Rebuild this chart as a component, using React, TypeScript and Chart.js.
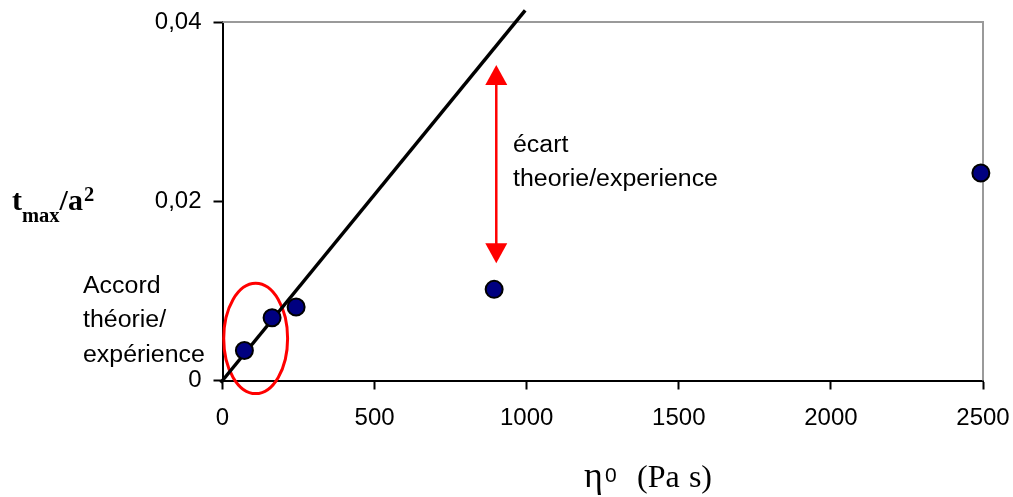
import React, { useEffect, useRef } from "react";
import { Chart, registerables } from "chart.js";

Chart.register(...registerables);

// ---- data ----
const etaValues = [72, 163, 242, 893, 2493];
const tmaxValues = [0.00335, 0.0070, 0.0082, 0.01017, 0.02316];
const fitX = [-6, 995];
const fitY = [-0.00025, 0.0413];
const xTickValues = [0, 500, 1000, 1500, 2000, 2500];
const yTickValues = [0, 0.02, 0.04];
// annotation anchors (data units)
const arrowX = 900;
const arrowYTop = 0.0352;
const arrowYBottom = 0.01307;
const ellipseCenter = { x: 109, y: 0.00469 };
const ellipseRadius = { x: 105, y: 0.00615 };
const ecartLines = ["écart", "theorie/experience"];
const accordLines = ["Accord", "théorie/", "expérience"];

const SANS = "'Liberation Sans', Arial, sans-serif";
const SERIF = "'Liberation Serif', 'Times New Roman', serif";

function stretchedText(ctx: CanvasRenderingContext2D, text: string, x: number, y: number, sx: number) {
  ctx.save();
  ctx.translate(x, y);
  ctx.scale(sx, 1);
  ctx.fillText(text, 0, 0);
  ctx.restore();
}

const decorPlugin = {
  id: "decor",
  beforeDatasetsDraw(chart: any) {
    const { ctx, chartArea, scales } = chart;
    const xs = scales.x;
    const ys = scales.y;
    ctx.save();
    // gray top & right frame
    ctx.strokeStyle = "#9a9a9a";
    ctx.lineWidth = 2;
    ctx.beginPath();
    ctx.moveTo(chartArea.left, chartArea.top);
    ctx.lineTo(chartArea.right, chartArea.top);
    ctx.lineTo(chartArea.right, chartArea.bottom);
    ctx.stroke();
    // red ellipse
    const cx = xs.getPixelForValue(ellipseCenter.x);
    const cy = ys.getPixelForValue(ellipseCenter.y);
    const rx = Math.abs(xs.getPixelForValue(ellipseCenter.x + ellipseRadius.x) - cx);
    const ry = Math.abs(ys.getPixelForValue(ellipseCenter.y + ellipseRadius.y) - cy);
    ctx.strokeStyle = "#ff0000";
    ctx.lineWidth = 3;
    ctx.beginPath();
    ctx.ellipse(cx, cy, rx, ry, 0, 0, Math.PI * 2);
    ctx.stroke();
    ctx.restore();
  },
  afterDatasetsDraw(chart: any) {
    const { ctx, scales } = chart;
    const xs = scales.x;
    const ys = scales.y;
    ctx.save();
    // red double arrow
    const ax = xs.getPixelForValue(arrowX);
    const top = ys.getPixelForValue(arrowYTop);
    const bot = ys.getPixelForValue(arrowYBottom);
    const headH = 20;
    const headW = 11;
    ctx.strokeStyle = "#ff0000";
    ctx.fillStyle = "#ff0000";
    ctx.lineWidth = 2.5;
    ctx.beginPath();
    ctx.moveTo(ax, top + headH - 2);
    ctx.lineTo(ax, bot - headH + 2);
    ctx.stroke();
    ctx.beginPath();
    ctx.moveTo(ax, top);
    ctx.lineTo(ax - headW, top + headH);
    ctx.lineTo(ax + headW, top + headH);
    ctx.closePath();
    ctx.fill();
    ctx.beginPath();
    ctx.moveTo(ax, bot);
    ctx.lineTo(ax - headW, bot - headH);
    ctx.lineTo(ax + headW, bot - headH);
    ctx.closePath();
    ctx.fill();

    // text annotations
    ctx.fillStyle = "#000";
    ctx.textAlign = "left";
    ctx.textBaseline = "alphabetic";
    ctx.font = `23.5px ${SANS}`;
    ecartLines.forEach((t, i) => stretchedText(ctx, t, 513, 152 + i * 34, 1.06));
    accordLines.forEach((t, i) => stretchedText(ctx, t, 83, 293 + i * 34.3, 1.06));

    // y title: t_max/a^2
    let x = 12;
    ctx.font = `bold 30px ${SERIF}`;
    ctx.fillText("t", x, 210);
    x += ctx.measureText("t").width;
    ctx.font = `bold 20.5px ${SERIF}`;
    ctx.fillText("max", x, 221.5);
    x += ctx.measureText("max").width;
    ctx.font = `bold 30px ${SERIF}`;
    ctx.fillText("/a", x, 210);
    x += ctx.measureText("/a").width;
    ctx.font = `bold 20.5px ${SERIF}`;
    ctx.fillText("2", x + 1, 200.5);

    // x title: η0 (Pa s)
    ctx.font = `36px ${SERIF}`;
    ctx.fillText("η", 584, 487);
    ctx.font = `21px ${SANS}`;
    ctx.fillText("0", 605, 482);
    ctx.font = `32px ${SERIF}`;
    ctx.fillText("(Pa", 637, 487);
    ctx.textAlign = "right";
    ctx.fillText("s)", 712, 487);
    ctx.restore();
  },
};

export default function App() {
  const ref = useRef<HTMLCanvasElement | null>(null);
  useEffect(() => {
    document.body.style.margin = "0";
    if (!ref.current) return;
    const chart = new Chart(ref.current, {
      type: "scatter",
      data: {
        datasets: [
          {
            label: "mesures",
            data: etaValues.map((v, i) => ({ x: v, y: tmaxValues[i] })),
            backgroundColor: "#000080",
            borderColor: "#000000",
            borderWidth: 2,
            pointRadius: 8.5,
            clip: false as any,
          },
          {
            label: "théorie",
            type: "line" as any,
            data: fitX.map((v, i) => ({ x: v, y: fitY[i] })),
            borderColor: "#000000",
            borderWidth: 3.5,
            pointRadius: 0,
            showLine: true,
            fill: false,
            clip: false as any,
          },
        ],
      },
      options: {
        responsive: false,
        animation: false,
        layout: { padding: { left: 0, top: 22, right: 30, bottom: 0 } },
        plugins: { legend: { display: false }, tooltip: { enabled: false } },
        scales: {
          x: {
            type: "linear",
            min: 0,
            max: 2500,
            afterBuildTicks: (s: any) => {
              s.ticks = xTickValues.map((v) => ({ value: v }));
            },
            afterFit: (s: any) => {
              s.height = 116.5;
              s.paddingLeft = 0;
              s.paddingRight = 0;
            },
            ticks: {
              color: "#000",
              font: { family: SANS, size: 24 },
              padding: 14,
              maxRotation: 0,
              callback: (v: any) => String(v),
            },
            grid: { drawOnChartArea: false, drawTicks: true, tickLength: 9, tickColor: "#000", tickWidth: 2 },
            border: { display: true, color: "#000", width: 2 },
          },
          y: {
            type: "linear",
            min: 0,
            max: 0.04,
            afterBuildTicks: (s: any) => {
              s.ticks = yTickValues.map((v) => ({ value: v }));
            },
            afterFit: (s: any) => {
              s.width = 222.5;
              s.paddingTop = 0;
              s.paddingBottom = 0;
            },
            ticks: {
              color: "#000",
              font: { family: SANS, size: 24 },
              padding: 12,
              callback: (v: any) => (v === 0 ? "0" : Number(v).toFixed(2).replace(".", ",")),
            },
            grid: { drawOnChartArea: false, drawTicks: true, tickLength: 9, tickColor: "#000", tickWidth: 2 },
            border: { display: true, color: "#000", width: 2 },
          },
        },
      },
      plugins: [decorPlugin],
    });
    return () => chart.destroy();
  }, []);
  return (
    <div style={{ width: 1013, height: 497, background: "#fff" }}>
      <canvas ref={ref} width={1013} height={497} style={{ display: "block" }} />
    </div>
  );
}
